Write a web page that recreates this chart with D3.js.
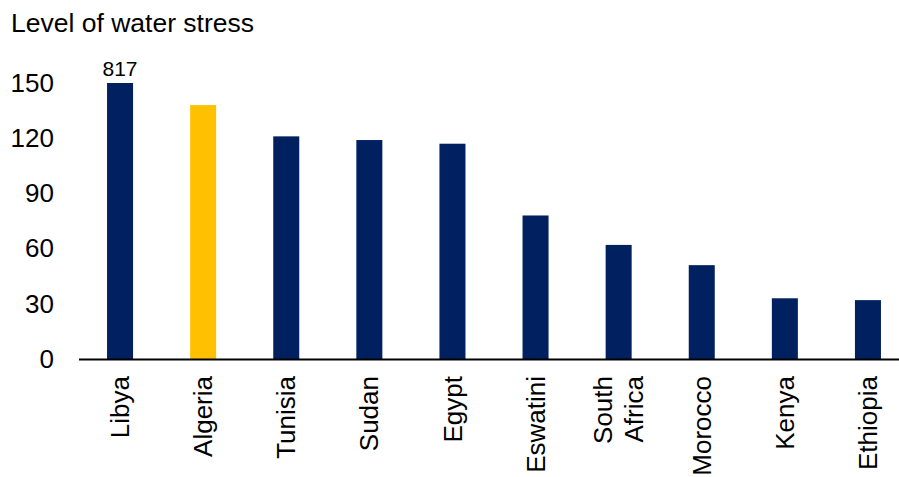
<!DOCTYPE html>
<html><head><meta charset="utf-8">
<script src="https://cdn.jsdelivr.net/npm/d3@7"></script>
<style>
html,body{margin:0;padding:0;background:#fff;}
svg{display:block;font-family:"Liberation Sans",Arial,sans-serif;}
</style></head>
<body>
<svg id="chart" width="899" height="477"></svg>
<script>
const categories = ["Libya","Algeria","Tunisia","Sudan","Egypt","Eswatini","South Africa","Morocco","Kenya","Ethiopia"];
const values = [817, 138, 121, 119, 117, 78, 62, 51, 33, 32];
const highlight = ["Algeria"];
const yTicks = [0, 30, 60, 90, 120, 150];
const yMax = 150;
const title = "Level of water stress";

const navy = "#002060", gold = "#FFC000";
const svg = d3.select("#chart");

const x = d3.scaleBand().domain(categories).range([78.5, 909.5]).paddingInner(0.687).paddingOuter(0.3435);
const y = d3.scaleLinear().domain([0, yMax]).range([359, 83]);

svg.append("text").attr("x", 11).attr("y", 32).attr("font-size", 26.5).attr("fill", "#000").text(title);

// y axis labels
const yAxis = d3.axisLeft(y).tickValues(yTicks).tickSize(0).tickPadding(0);
const gy = svg.append("g").attr("transform", "translate(54,0)").call(yAxis);
gy.select(".domain").remove();
gy.selectAll("text").attr("font-size", 26).attr("fill", "#000").attr("font-family", "Liberation Sans, Arial, sans-serif");

// bars
const data = categories.map((c, i) => ({c, v: values[i]}));
svg.append("g").selectAll("rect").data(data).join("rect")
  .attr("x", d => x(d.c))
  .attr("width", x.bandwidth())
  .attr("y", d => y(Math.min(d.v, yMax)))
  .attr("height", d => y(0) - y(Math.min(d.v, yMax)))
  .attr("fill", d => highlight.includes(d.c) ? gold : navy);

// label for capped bars
svg.append("g").selectAll("text").data(data.filter(d => d.v > yMax)).join("text")
  .attr("x", d => x(d.c) + x.bandwidth() / 2)
  .attr("y", d => y(yMax) - 7)
  .attr("text-anchor", "middle").attr("font-size", 21).attr("fill", "#000")
  .text(d => d.v);

// x axis
const xAxis = d3.axisBottom(x).tickSize(0).tickFormat("");
const gx = svg.append("g").attr("transform", "translate(0,359.5)").call(xAxis);
gx.select(".domain").attr("stroke", "#000").attr("stroke-width", 2).attr("d", "M79,0H899");

const gl = svg.append("g");
categories.forEach(c => {
  const lines = c === "South Africa" ? ["South", "Africa"] : [c];
  const cx = x(c) + x.bandwidth() / 2;
  const t = gl.append("text")
    .attr("transform", `translate(${cx},376) rotate(-90)`)
    .attr("text-anchor", "end").attr("font-size", 26).attr("fill", "#000");
  const n = lines.length;
  lines.forEach((l, i) => {
    t.append("tspan").attr("x", 0)
      .attr("y", (i - (n - 1) / 2) * 31)
      .attr("dy", "0.35em").text(l);
  });
});
</script>
</body></html>
